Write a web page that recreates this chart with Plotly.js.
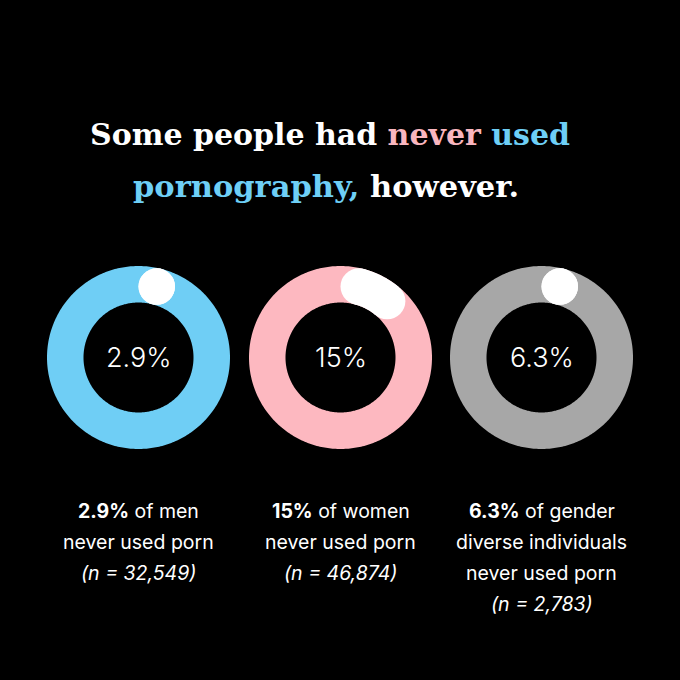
<!DOCTYPE html>
<html>
<head>
<meta charset="utf-8">
<script src="https://cdn.plot.ly/plotly-3.0.1.min.js"></script>
<style>html,body{margin:0;padding:0;background:#000;}#chart{width:680px;height:680px;}</style>
</head>
<body>
<div id="chart"></div>
<script>
// ---- data ----
const groups = ['men', 'women', 'gender diverse individuals'];
const percents = [2.9, 15, 6.3];
const pctLabels = ['2.9%', '15%', '6.3%'];
const sampleSizes = ['32,549', '46,874', '2,783'];
const captionLines = [
  ['<b>2.9%</b> of men', 'never used porn'],
  ['<b>15%</b> of women', 'never used porn'],
  ['<b>6.3%</b> of gender', 'diverse individuals', 'never used porn']
];
const ringColors = ['#6FCEF5', '#FDB8C0', '#A7A7A7'];

// ---- layout geometry ----
const W = 680, H = 680;
const centersX = [138.5, 340.5, 541.5];
const centerY = 357.5;
const outerR = 91.5, innerR = 55;
const ringR = (outerR + innerR) / 2;
const ringW = outerR - innerR;
const capHalf = ringW / 2;
const capAng = Math.asin(capHalf / ringR) * 180 / Math.PI;

function pt(cx, cy, r, deg) {
  const a = deg * Math.PI / 180;
  return [cx + r * Math.sin(a), cy - r * Math.cos(a)];
}
// closed band between radii r0 and r1 from angle a0 to a1
function band(cx, cy, r0, r1, a0, a1, n) {
  const xs = [], ys = [];
  for (let k = 0; k <= n; k++) {
    const p = pt(cx, cy, r1, a0 + (a1 - a0) * k / n);
    xs.push(p[0]); ys.push(p[1]);
  }
  for (let k = n; k >= 0; k--) {
    const p = pt(cx, cy, r0, a0 + (a1 - a0) * k / n);
    xs.push(p[0]); ys.push(p[1]);
  }
  xs.push(xs[0]); ys.push(ys[0]);
  return {xs, ys};
}

const traces = [];
const annotations = [];
percents.forEach((p, i) => {
  const cx = centersX[i];
  const ring = band(cx, centerY, innerR, outerR, 0, 360, 360);
  traces.push({type: 'scatter', mode: 'lines', x: ring.xs, y: ring.ys, fill: 'toself',
    fillcolor: ringColors[i], line: {width: 0, simplify: false}, hoverinfo: 'skip', showlegend: false});
  const endAng = Math.max(capAng, p / 100 * 360 - capAng);
  const seg = band(cx, centerY, innerR, outerR, capAng, endAng, 80);
  traces.push({type: 'scatter', mode: 'lines', x: seg.xs, y: seg.ys, fill: 'toself',
    fillcolor: '#FFFFFF', line: {width: 0, simplify: false}, hoverinfo: 'skip', showlegend: false});
  const s = pt(cx, centerY, ringR, capAng), e = pt(cx, centerY, ringR, endAng);
  traces.push({type: 'scatter', mode: 'markers', x: [s[0], e[0]], y: [s[1], e[1]],
    marker: {color: '#FFFFFF', size: ringW, line: {width: 0}}, hoverinfo: 'skip', showlegend: false});

  annotations.push({x: cx, y: centerY, xref: 'x', yref: 'y', text: pctLabels[i], showarrow: false,
    font: {family: 'Inter, sans-serif', size: 27, color: '#FFFFFF', weight: 300}});

  const lines = captionLines[i].concat(['<i>(n = ' + sampleSizes[i] + ')</i>']);
  lines.forEach((t, j) => {
    annotations.push({x: cx, y: 510.5 + j * 31, xref: 'x', yref: 'y', text: t, showarrow: false,
      font: {family: 'Inter, sans-serif', size: 19.5, color: '#FFFFFF'}});
  });
});

const blue = '#6ECFF6', pink = '#F9B6BF';
annotations.push({x: 330, y: 134, xref: 'x', yref: 'y', showarrow: false,
  text: '<b>Some people had <span style="color:' + pink + '">never</span> <span style="color:' + blue + '">used</span></b>',
  font: {family: 'DejaVu Serif, serif', size: 30, color: '#FFFFFF'}});
annotations.push({x: 326, y: 186, xref: 'x', yref: 'y', showarrow: false,
  text: '<b><span style="color:' + blue + '">pornography,</span> however.</b>',
  font: {family: 'DejaVu Serif, serif', size: 30.5, color: '#FFFFFF'}});

const layout = {
  width: W, height: H,
  margin: {l: 0, r: 0, t: 0, b: 0},
  paper_bgcolor: '#000000', plot_bgcolor: '#000000',
  xaxis: {range: [0, W], visible: false, fixedrange: true},
  yaxis: {range: [H, 0], visible: false, fixedrange: true},
  annotations: annotations,
  showlegend: false
};
Plotly.newPlot('chart', traces, layout, {displayModeBar: false, staticPlot: true});
</script>
</body>
</html>
